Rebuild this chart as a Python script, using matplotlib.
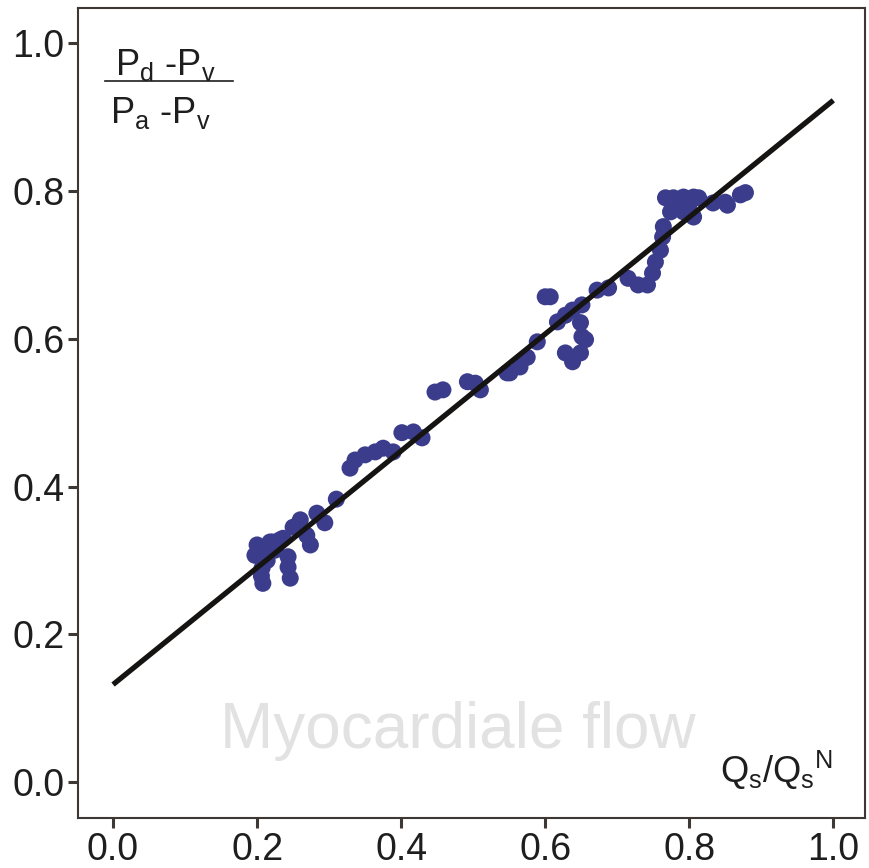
import matplotlib
matplotlib.use("Agg")
import matplotlib.pyplot as plt
from matplotlib.lines import Line2D

plt.rcParams["font.family"] = ["Liberation Sans", "DejaVu Sans"]
plt.rcParams["mathtext.fontset"] = "custom"
plt.rcParams["mathtext.rm"] = "Liberation Sans"
plt.rcParams["mathtext.it"] = "Liberation Sans"

# normalised flow Qs/QsN
flow = [0.200, 0.197, 0.207, 0.208, 0.206, 0.218, 0.232, 0.222, 0.236, 0.243,
        0.246, 0.243, 0.250, 0.260, 0.269, 0.274, 0.283, 0.294, 0.310, 0.211,
        0.225, 0.203, 0.214,
        0.329, 0.336, 0.350, 0.364, 0.375, 0.389, 0.401, 0.417, 0.429, 0.447,
        0.458, 0.492, 0.503, 0.510, 0.547, 0.551, 0.565, 0.575, 0.589, 0.607,
        0.600, 0.617, 0.628, 0.638, 0.651, 0.649, 0.651, 0.656, 0.628, 0.638,
        0.649, 0.672, 0.688, 0.715, 0.729, 0.742, 0.749, 0.753, 0.760, 0.763,
        0.764, 0.767, 0.778, 0.792, 0.806, 0.813, 0.774, 0.792, 0.806, 0.833,
        0.850, 0.871, 0.878, 0.853, 0.785, 0.799]

# normalised pressure (Pd-Pv)/(Pa-Pv)
pressure = [0.321, 0.307, 0.290, 0.269, 0.279, 0.325, 0.328, 0.325, 0.330, 0.291,
            0.276, 0.305, 0.345, 0.355, 0.334, 0.321, 0.364, 0.351, 0.383, 0.311,
            0.314, 0.315, 0.300,
            0.425, 0.436, 0.443, 0.447, 0.452, 0.447, 0.473, 0.474, 0.466, 0.528,
            0.531, 0.542, 0.540, 0.531, 0.554, 0.554, 0.562, 0.575, 0.596, 0.657,
            0.657, 0.623, 0.632, 0.639, 0.646, 0.622, 0.603, 0.599, 0.581, 0.569,
            0.581, 0.666, 0.669, 0.682, 0.673, 0.673, 0.689, 0.704, 0.720, 0.738,
            0.752, 0.791, 0.791, 0.792, 0.792, 0.791, 0.772, 0.772, 0.765, 0.784,
            0.785, 0.795, 0.798, 0.781, 0.782, 0.780]

# fitted regression line
fit_x = [0.0, 1.0]
fit_intercept = 0.132
fit_slope = 0.791

ticks = [0.0, 0.2, 0.4, 0.6, 0.8, 1.0]
tick_labels = ["0.0", "0.2", "0.4", "0.6", "0.8", "1.0"]

fig = plt.figure(figsize=(8.69, 8.68), dpi=100)
ax = fig.add_axes([0.0898, 0.0576, 0.9056, 0.9332])

ax.scatter(flow, pressure, s=150, color="#3b3d8c", edgecolors="none", zorder=2)
fit_y = [fit_intercept + fit_slope * v for v in fit_x]
ax.plot(fit_x, fit_y, color="#161412", lw=3.8, solid_capstyle="butt", zorder=3)

ax.set_xlim(-0.0486, 1.044)
ax.set_ylim(-0.0487, 1.048)
ax.set_xticks(ticks)
ax.set_xticklabels(tick_labels)
ax.set_yticks(ticks)
ax.set_yticklabels(tick_labels)

spine_col = "#3d3833"
for sp in ax.spines.values():
    sp.set_color(spine_col)
    sp.set_linewidth(1.5)
ax.tick_params(axis="both", direction="out", length=7, width=2.2,
               color=spine_col, labelsize=27, labelcolor="#1e1e1e", pad=3)

# watermark
ax.text(0.483, 0.086, "Myocardiale flow", transform=ax.transAxes,
        fontsize=46, color="#e2e2e2", ha="center", va="baseline", zorder=1)

# y quantity as a fraction
ax.text(0.047, 0.917, r"$\mathregular{P_d}$ -$\mathregular{P_v}$",
        transform=ax.transAxes, fontsize=26, ha="left", va="baseline",
        color="#1e1e1e")
ax.add_line(Line2D([0.034, 0.197], [0.910, 0.910], transform=ax.transAxes,
                   color="#1e1e1e", lw=1.2))
ax.text(0.040, 0.858, r"$\mathregular{P_a}$ -$\mathregular{P_v}$",
        transform=ax.transAxes, fontsize=26, ha="left", va="baseline",
        color="#1e1e1e")

# x quantity
ax.text(0.959, 0.043, r"$\mathregular{Q_s/{Q_s}^N}$", transform=ax.transAxes,
        fontsize=26, ha="right", va="baseline", color="#1e1e1e")

fig.savefig("out.png", dpi=100)
